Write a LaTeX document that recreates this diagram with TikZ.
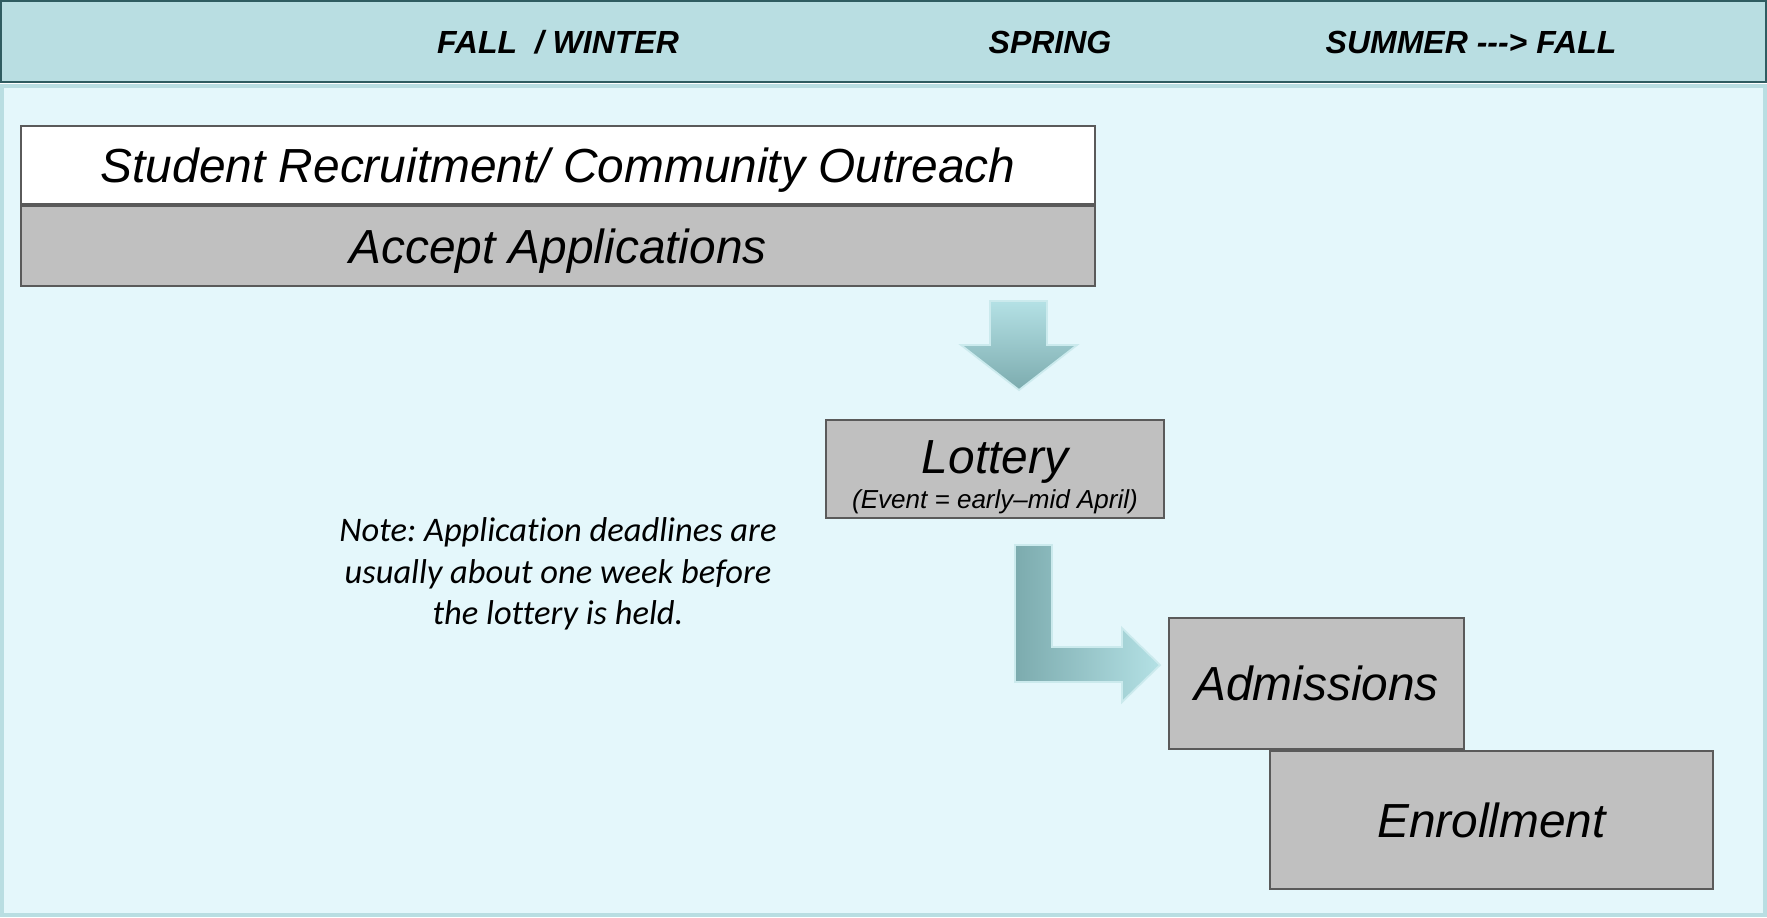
\documentclass[tikz,border=0pt]{standalone}
\usepackage{fontspec}
\setmainfont{Liberation Sans}
\newfontfamily\notefont[Ligatures=NoCommon]{Carlito}
\usepackage{tikz}
\usetikzlibrary{positioning}
\frenchspacing
\definecolor{headbg}{HTML}{B9DEE2}
\definecolor{headline}{HTML}{2F5C61}
\definecolor{bodybg}{HTML}{E4F7FB}
\definecolor{bodyline}{HTML}{B9DEE2}
\definecolor{boxgray}{HTML}{C0C0C0}
\definecolor{boxline}{HTML}{5A5A5A}
\definecolor{arrowlight}{HTML}{B4E1E5}
\definecolor{arrowdark}{HTML}{7CABAE}
\tikzset{
  every node/.style={text=black},
  season/.style={font=\fontsize{9.1}{11}\selectfont\bfseries\itshape},
  stage/.style={draw=boxline,line width=0.5pt,fill=boxgray,inner sep=0pt,align=center,font=\fontsize{13.6}{16}\selectfont\itshape},
  blankstage/.style={stage,fill=white},
  flow/.style={draw=arrowlight!70!white,line width=0.5pt},
  note/.style={align=center,font=\notefont\itshape\fontsize{9.8}{11.8}\selectfont}
}

\begin{document}
\begin{tikzpicture}[x=0.01cm,y=-0.01cm]
  \useasboundingbox (0,0) rectangle (1767,917);
  % header band and body
  \draw[headline,fill=headbg,line width=0.8pt] (0.5,1) rectangle (1766.5,82);
  \draw[bodyline,fill=bodybg,line width=1pt] (2,86) rectangle (1765,915);

  \node[season] (fall) at (558,42) {FALL \ / WINTER};
  \node[season] (spring) at (1050,42) {SPRING};
  \node[season] (summer) at (1471,42) {SUMMER -\kern0pt-\kern0pt-> FALL};

  % stages
  \node[blankstage,text depth=0pt,minimum width=10.73cm,minimum height=0.78cm] (outreach) at (558,165) {Student Recruitment/ Community Outreach};
  \node[stage,text depth=0pt,minimum width=10.73cm,minimum height=0.80cm,below=0pt of outreach] (accept) {Accept Applications};
  \node[stage,minimum width=3.38cm,minimum height=0.98cm] (lottery) at (995,469)
    {\rule{0pt}{14pt}Lottery\\[-6.1pt]{\fontsize{7.4}{9}\selectfont (Event = early--mid April)}};
  \node[stage,minimum width=2.95cm,minimum height=1.31cm] (admit) at (1316.5,683.5) {Admissions};
  \node[stage,minimum width=4.43cm,minimum height=1.38cm] (enroll) at (1491.5,820) {Enrollment};

  \node[note] (deadline) at (558,574) {Note: Application deadlines are\\usually about one week before\\the lottery is held.};

  % block arrows
  \shade[flow,top color=arrowlight,bottom color=arrowdark]
    (990,301) -- (1047,301) -- (1047,345) -- (1077,345) -- (1019,390) -- (961,345) -- (990,345) -- cycle;
  \shade[flow,left color=arrowdark,right color=arrowlight]
    (1015,545) -- (1052,545) -- (1052,647) -- (1122,647) -- (1122,628) -- (1160,665)
    -- (1122,702) -- (1122,682) -- (1015,682) -- cycle;
\end{tikzpicture}
\end{document}
